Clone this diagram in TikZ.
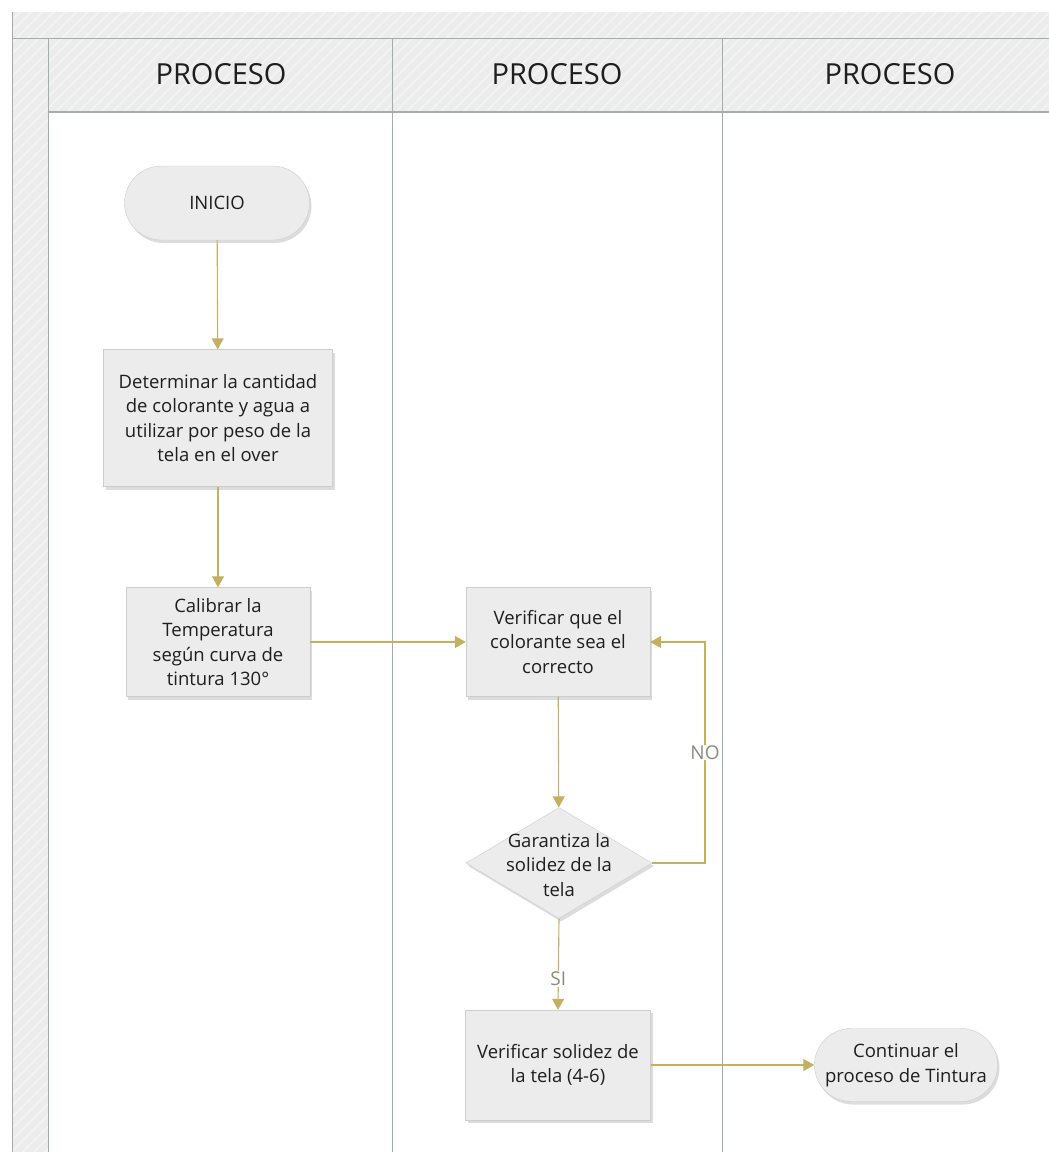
\documentclass[tikz,border=0pt]{standalone}
\usepackage{fontspec}
\setmainfont{Open Sans}
\usetikzlibrary{arrows.meta,shapes.geometric,shapes.misc,shadows,patterns.meta}
\definecolor{arrowc}{RGB}{196,176,98}
\definecolor{lanel}{RGB}{165,172,172}
\definecolor{hdrfill}{RGB}{236,236,236}
\definecolor{hstripe}{RGB}{243,243,243}
\definecolor{nfill}{RGB}{236,236,236}
\definecolor{nborder}{RGB}{205,205,205}
\definecolor{txt}{RGB}{30,30,30}
\definecolor{lblc}{RGB}{140,140,125}
\tikzset{
  hatch/.style={fill=hdrfill},
  hatchlines/.style={pattern={Lines[angle=45,distance=8pt,line width=1.8pt]}, pattern color=hstripe},
  laneline/.style={draw=lanel, line width=1pt},
  hdrtext/.style={font=\fontsize{29}{32}\selectfont, text=txt},
  nodefont/.style={font=\fontsize{18.5}{24.5}\selectfont, text=txt},
  shade/.style={drop shadow={shadow xshift=2pt, shadow yshift=-3pt, opacity=0.3, fill=black!45}},
  flowbox/.style={rectangle, draw=nborder, fill=nfill, align=center, nodefont, inner sep=0pt, shade},
  term/.style={rounded rectangle, draw=nborder, fill=nfill, align=center, nodefont, inner sep=0pt, shade},
  dec/.style={diamond, draw=nborder, fill=nfill, inner sep=0pt, shade},
  conn/.style={draw=arrowc, line width=1.1pt, -{Triangle[width=12pt,length=11pt]}},
  lbl/.style={fill=white, inner sep=1pt, text=lblc, font=\fontsize{19}{22}\selectfont}
}
\begin{document}
\begin{tikzpicture}[x=1pt,y=-1pt]
\useasboundingbox (0,0) rectangle (1049,1152);
% pool background bands
\fill[hatch] (12,12) rectangle (1049,38);
\fill[hatch] (12,38) rectangle (48,1152);
\fill[hatch] (48,38) rectangle (1049,112);
\fill[hatchlines] (12,12) rectangle (1049,38);
\fill[hatchlines] (12,38) rectangle (48,1152);
\fill[hatchlines] (48,38) rectangle (1049,112);
% lane lines
\draw[laneline] (12,12) -- (12,1152);
\draw[laneline] (12,38) -- (1049,38);
\draw[laneline] (48,38) -- (48,1152);
\draw[laneline, line width=1.4pt] (48,112) -- (1049,112);
\draw[laneline] (392,38) -- (392,1152);
\draw[laneline] (722,38) -- (722,1152);
% headers
\node[hdrtext] (h1) at (221,74) {PROCESO};
\node[hdrtext] (h2) at (557,74) {PROCESO};
\node[hdrtext] (h3) at (890,74) {PROCESO};
% nodes
\node[term, minimum width=185pt, minimum height=74pt] (inicio) at (217,203) {INICIO};
\node[flowbox, minimum width=229pt, minimum height=137pt] (det) at (218,418)
  {Determinar la cantidad\\de colorante y agua a\\utilizar por peso de la\\tela en el over};
\node[flowbox, minimum width=184pt, minimum height=109pt] (cal) at (218,642)
  {Calibrar la\\Temperatura\\según curva de\\tintura 130°};
\node[flowbox, minimum width=184pt, minimum height=109pt] (ver) at (558,642)
  {Verificar que el\\colorante sea el\\correcto};
\node[dec, minimum width=186pt, minimum height=111pt] (gar) at (559,863) {};
\node[align=center, nodefont] (gartext) at (559,865) {Garantiza la\\solidez de la\\tela};
\node[flowbox, minimum width=185pt, minimum height=110pt] (sol) at (558,1065)
  {Verificar solidez de\\la tela (4-6)};
\node[term, minimum width=183pt, minimum height=73pt] (cont) at (906,1065)
  {Continuar el\\proceso de Tintura};
\coordinate (noA) at (705,863);
\coordinate (noB) at (705,642);
% connectors
\draw[conn] (inicio) -- (det);
\draw[conn] (det) -- (cal);
\draw[conn] (cal) -- (ver);
\draw[conn] (ver) -- (gar);
\draw[conn] (gar.east) -- (noA) -- node[lbl, pos=0.5] (nolbl) {NO} (noB) -- (ver.east);
\draw[conn] (gar.south) -- node[lbl, pos=0.66] (silbl) {SI} (sol.north);
\draw[conn] (sol) -- (cont);
\end{tikzpicture}
\end{document}
